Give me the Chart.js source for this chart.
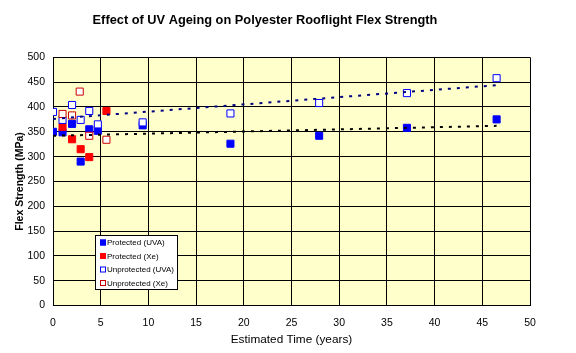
<!DOCTYPE html>
<html>
<head>
<meta charset="utf-8">
<script src="https://cdn.jsdelivr.net/npm/chart.js@4.4.1/dist/chart.umd.min.js"></script>
<style>
  html, body { margin: 0; padding: 0; background: #fff; }
  canvas { display: block; }
</style>
</head>
<body>
<canvas id="chart" width="576" height="353"></canvas>
<script>
// Values (years, MPa)
const protUvaYears   = [0, 1.0, 2.0, 2.9, 3.8, 4.7, 9.4, 18.6, 27.9, 37.1, 46.5]
const protUvaMpa     = [350, 349, 366, 290, 355, 352, 363, 326, 342, 358, 375]
const protXeYears    = [1.0, 2.0, 2.9, 3.8, 5.6]
const protXeMpa      = [360, 335, 315, 299, 392]
const unprotUvaYears = [0, 1.0, 2.0, 2.9, 3.8, 4.7, 9.4, 18.6, 27.9, 37.1, 46.5]
const unprotUvaMpa   = [390, 374, 404, 374, 392, 365, 369, 387, 408, 428, 458]
const unprotXeYears  = [1.0, 2.0, 2.8, 3.8, 5.6]
const unprotXeMpa    = [386, 383, 431, 342, 334]

// Linear trendlines (end points)
const trendYears        = [0, 46.5]
const trendProtUva      = [342, 362]
const trendUnprotUva    = [376, 444]

const xTicks = [0, 5, 10, 15, 20, 25, 30, 35, 40, 45, 50]
const yTicks = [0, 50, 100, 150, 200, 250, 300, 350, 400, 450, 500]

const FONT = "'Liberation Sans', Arial, sans-serif"

const pts = (xs, ys) => xs.map((x, i) => ({ x, y: ys[i] }))

// legend entries, drawn in this order
const legendItems = [
  { label: "Protected (UVA)",   fill: "#0000ff", stroke: "#0000ff" },
  { label: "Protected (Xe)",    fill: "#ff0000", stroke: "#ff0000" },
  { label: "Unprotected (UVA)", fill: "#ffffff", stroke: "#0000ff" },
  { label: "Unprotected (Xe)",  fill: "#ffffff", stroke: "#cc0000" }
]

const plotBackground = {
  id: "plotBackground",
  beforeDraw(chart) {
    const { ctx, chartArea: a } = chart
    ctx.save()
    ctx.fillStyle = "#ffffcc"
    ctx.fillRect(a.left, a.top, a.right - a.left, a.bottom - a.top)
    ctx.restore()
  }
}

const boxLegend = {
  id: "boxLegend",
  afterDraw(chart) {
    const ctx = chart.ctx
    const x = 95, y = 235, w = 82, h = 54
    ctx.save()
    ctx.fillStyle = "#ffffff"
    ctx.fillRect(x, y, w, h)
    ctx.strokeStyle = "#000"
    ctx.lineWidth = 1
    ctx.strokeRect(x + 0.5, y + 0.5, w, h)
    ctx.font = "8px " + FONT
    ctx.textBaseline = "middle"
    legendItems.forEach((item, i) => {
      const cy = y + 7.5 + i * 13.5
      ctx.fillStyle = item.fill
      ctx.fillRect(x + 5, cy - 3, 6, 6)
      ctx.strokeStyle = item.stroke
      ctx.strokeRect(x + 5.5, cy - 2.5, 5, 5)
      ctx.fillStyle = "#000"
      ctx.fillText(item.label, x + 12, cy + 0.5)
    })
    ctx.restore()
  }
}

const scatterSet = (label, xs, ys, fill, stroke) => ({
  type: "scatter",
  label,
  data: pts(xs, ys),
  pointStyle: "rect",
  pointRadius: 5,
  pointHoverRadius: 5,
  borderWidth: 1,
  backgroundColor: fill,
  borderColor: stroke
})

const trendSet = (ys, color) => ({
  type: "line",
  data: pts(trendYears, ys),
  borderColor: color,
  borderWidth: 2,
  borderDash: [3, 6],
  pointRadius: 0,
  fill: false,
  tension: 0
})

new Chart(document.getElementById("chart"), {
  type: "scatter",
  data: {
    datasets: [
      // first dataset is drawn last (on top)
      trendSet(trendUnprotUva, "#000080"),
      trendSet(trendProtUva, "#000000"),
      scatterSet("Unprotected (Xe)", unprotXeYears, unprotXeMpa, "#ffffff", "#cc0000"),
      scatterSet("Unprotected (UVA)", unprotUvaYears, unprotUvaMpa, "#ffffff", "#0000ff"),
      scatterSet("Protected (Xe)", protXeYears, protXeMpa, "#ff0000", "#ff0000"),
      scatterSet("Protected (UVA)", protUvaYears, protUvaMpa, "#0000ff", "#0000ff")
    ]
  },
  options: {
    responsive: false,
    animation: false,
    layout: { padding: { left: 0, right: 46, top: 0, bottom: 0 } },
    plugins: {
      legend: { display: false },
      tooltip: { enabled: false },
      title: {
        display: true,
        text: "Effect of UV Ageing on Polyester Rooflight Flex Strength",
        color: "#000",
        font: { family: FONT, size: 12.8, weight: "bold" },
        padding: { top: 12.5, bottom: 29.5 }
      }
    },
    scales: {
      x: {
        type: "linear",
        min: 0,
        max: 50,
        afterFit: s => { s.height = 47.5 },
        afterBuildTicks: s => { s.ticks = xTicks.map(v => ({ value: v })) },
        ticks: { color: "#000", padding: 11, font: { family: FONT, size: 10.5 } },
        grid: { color: "#000", lineWidth: 1, drawTicks: false },
        border: { color: "#000", width: 1 },
        title: {
          display: true,
          text: "Estimated Time (years)",
          color: "#000",
          font: { family: FONT, size: 11.8 },
          padding: { top: 0, bottom: 6 }
        }
      },
      y: {
        type: "linear",
        min: 0,
        max: 500,
        afterFit: s => { s.width = 53 },
        afterBuildTicks: s => { s.ticks = yTicks.map(v => ({ value: v })) },
        ticks: { color: "#000", padding: 8, font: { family: FONT, size: 10.5 } },
        grid: { color: "#000", lineWidth: 1, drawTicks: false },
        border: { color: "#000", width: 1 },
        title: {
          display: true,
          text: "Flex Strength (MPa)",
          color: "#000",
          font: { family: FONT, size: 10.5, weight: "bold" },
          padding: { top: 13.5, bottom: 0 }
        }
      }
    }
  },
  plugins: [plotBackground, boxLegend]
})
</script>
</body>
</html>
